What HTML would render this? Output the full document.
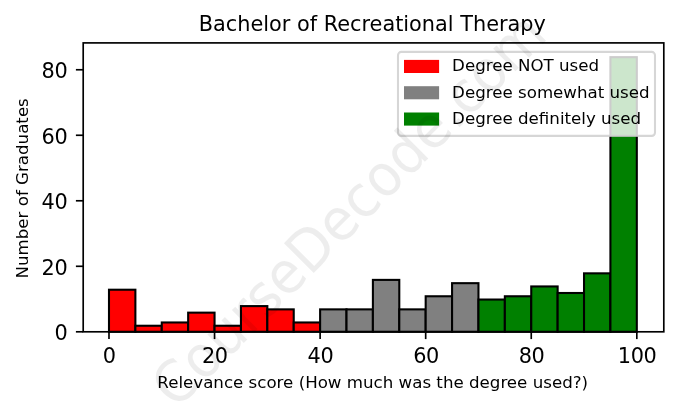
<!DOCTYPE html>
<html><head><meta charset="utf-8"><title>Bachelor of Recreational Therapy</title>
<style>
html,body{margin:0;padding:0;background:#fff;}
svg{display:block;}
text{font-family:"DejaVu Sans", "Liberation Sans", sans-serif;fill:#000;}
</style></head><body>
<svg width="678" height="408" viewBox="0 0 678 408">
<rect x="0" y="0" width="678" height="408" fill="#ffffff"/>

<g stroke="#000" stroke-width="2.08" stroke-linejoin="miter">
<rect x="108.99" y="289.72" width="26.39" height="42.08" fill="#ff0000"/>
<rect x="135.38" y="325.75" width="26.39" height="6.05" fill="#ff0000"/>
<rect x="161.77" y="322.47" width="26.39" height="9.33" fill="#ff0000"/>
<rect x="188.16" y="312.65" width="26.39" height="19.15" fill="#ff0000"/>
<rect x="214.55" y="325.75" width="26.39" height="6.05" fill="#ff0000"/>
<rect x="240.95" y="306.10" width="26.39" height="25.70" fill="#ff0000"/>
<rect x="267.34" y="309.37" width="26.39" height="22.43" fill="#ff0000"/>
<rect x="293.73" y="322.47" width="26.39" height="9.33" fill="#ff0000"/>
<rect x="320.12" y="309.37" width="26.39" height="22.43" fill="#808080"/>
<rect x="346.51" y="309.37" width="26.39" height="22.43" fill="#808080"/>
<rect x="372.90" y="279.89" width="26.39" height="51.91" fill="#808080"/>
<rect x="399.29" y="309.37" width="26.39" height="22.43" fill="#808080"/>
<rect x="425.68" y="296.27" width="26.39" height="35.53" fill="#808080"/>
<rect x="452.07" y="283.17" width="26.39" height="48.63" fill="#808080"/>
<rect x="478.46" y="299.54" width="26.39" height="32.26" fill="#008000"/>
<rect x="504.85" y="296.27" width="26.39" height="35.53" fill="#008000"/>
<rect x="531.25" y="286.44" width="26.39" height="45.36" fill="#008000"/>
<rect x="557.64" y="292.99" width="26.39" height="38.81" fill="#008000"/>
<rect x="584.03" y="273.34" width="26.39" height="58.46" fill="#008000"/>
<rect x="610.42" y="57.16" width="26.39" height="274.64" fill="#008000"/>
</g>
<g stroke="#000" stroke-width="1.67">
<line x1="108.99" y1="331.80" x2="108.99" y2="339.10"/>
<line x1="214.55" y1="331.80" x2="214.55" y2="339.10"/>
<line x1="320.12" y1="331.80" x2="320.12" y2="339.10"/>
<line x1="425.68" y1="331.80" x2="425.68" y2="339.10"/>
<line x1="531.25" y1="331.80" x2="531.25" y2="339.10"/>
<line x1="636.81" y1="331.80" x2="636.81" y2="339.10"/>
<line x1="83.20" y1="331.80" x2="75.90" y2="331.80"/>
<line x1="83.20" y1="266.29" x2="75.90" y2="266.29"/>
<line x1="83.20" y1="200.78" x2="75.90" y2="200.78"/>
<line x1="83.20" y1="135.27" x2="75.90" y2="135.27"/>
<line x1="83.20" y1="69.76" x2="75.90" y2="69.76"/>
</g>
<rect x="83.20" y="42.90" width="580.60" height="288.90" fill="none" stroke="#000" stroke-width="1.67" stroke-linejoin="miter"/>
<g font-size="20.83px" letter-spacing="-0.4">
<text x="109.29" y="362.5" text-anchor="middle">0</text>
<text x="214.85" y="362.5" text-anchor="middle">20</text>
<text x="320.42" y="362.5" text-anchor="middle">40</text>
<text x="425.98" y="362.5" text-anchor="middle">60</text>
<text x="531.55" y="362.5" text-anchor="middle">80</text>
<text x="637.11" y="362.5" text-anchor="middle">100</text>
<text x="67.3" y="340.30" text-anchor="end">0</text>
<text x="67.3" y="274.79" text-anchor="end">20</text>
<text x="67.3" y="209.28" text-anchor="end">40</text>
<text x="67.3" y="143.77" text-anchor="end">60</text>
<text x="67.3" y="78.26" text-anchor="end">80</text>
</g>
<text x="372.30" y="30.8" font-size="20.83px" text-anchor="middle">Bachelor of Recreational Therapy</text>
<text x="372.70" y="388.3" font-size="16.67px" text-anchor="middle">Relevance score (How much was the degree used?)</text>
<text transform="translate(27.7 188.35) rotate(-90)" font-size="16.67px" text-anchor="middle">Number of Graduates</text>
<rect x="398" y="51.9" width="257" height="84" rx="3.3" ry="3.3" fill="#fff" fill-opacity="0.8" stroke="#cccccc" stroke-opacity="0.8" stroke-width="2.08"/>
<rect x="404" y="59.90" width="35.1" height="13.1" fill="#ff0000"/>
<text x="452.1" y="71.40" font-size="16.67px">Degree NOT used</text>
<rect x="404" y="86.20" width="35.1" height="13.1" fill="#808080"/>
<text x="452.1" y="97.70" font-size="16.67px">Degree somewhat used</text>
<rect x="404" y="112.50" width="35.1" height="13.1" fill="#008000"/>
<text x="452.1" y="124.00" font-size="16.67px">Degree definitely used</text>
<text transform="translate(176.36 410.34) rotate(-45) scale(1 1.07)" font-size="54.17px" fill="#808080" fill-opacity="0.07">CourseDecode.com</text>
</svg>
</body></html>
